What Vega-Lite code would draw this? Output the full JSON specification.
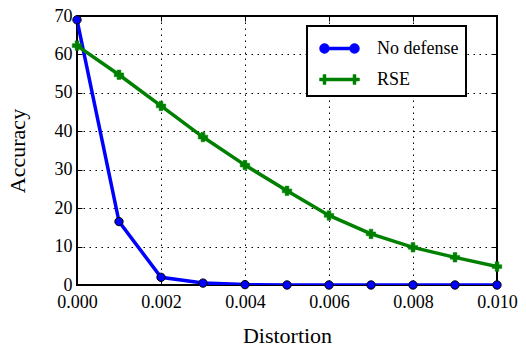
{
  "$schema": "https://vega.github.io/schema/vega-lite/v6.json",
  "width": 420,
  "height": 269,
  "autosize": "none",
  "padding": {"left": 77, "top": 16, "right": 29, "bottom": 63},
  "background": "white",
  "config": {
    "font": "Liberation Serif, DejaVu Serif, serif",
    "view": {"stroke": "black", "strokeWidth": 2},
    "axis": {
      "labelFont": "Liberation Serif, DejaVu Serif, serif",
      "titleFont": "Liberation Serif, DejaVu Serif, serif",
      "labelFontSize": 18,
      "titleFontSize": 22,
      "titleFontWeight": "normal",
      "labelColor": "black",
      "titleColor": "black",
      "domain": false,
      "tickColor": "black",
      "tickSize": -5,
      "tickWidth": 1,
      "gridColor": "black",
      "gridDash": [1.5, 4.5],
      "gridWidth": 1,
      "gridOpacity": 1
    }
  },
  "data": {
    "values": [
      {"d": 0.000, "acc": 69, "series": "No defense"},
      {"d": 0.001, "acc": 16.5, "series": "No defense"},
      {"d": 0.002, "acc": 2, "series": "No defense"},
      {"d": 0.003, "acc": 0.5, "series": "No defense"},
      {"d": 0.004, "acc": 0.1, "series": "No defense"},
      {"d": 0.005, "acc": 0, "series": "No defense"},
      {"d": 0.006, "acc": 0, "series": "No defense"},
      {"d": 0.007, "acc": 0, "series": "No defense"},
      {"d": 0.008, "acc": 0, "series": "No defense"},
      {"d": 0.009, "acc": 0, "series": "No defense"},
      {"d": 0.010, "acc": 0, "series": "No defense"},
      {"d": 0.000, "acc": 62.3, "series": "RSE"},
      {"d": 0.001, "acc": 54.7, "series": "RSE"},
      {"d": 0.002, "acc": 46.6, "series": "RSE"},
      {"d": 0.003, "acc": 38.5, "series": "RSE"},
      {"d": 0.004, "acc": 31.2, "series": "RSE"},
      {"d": 0.005, "acc": 24.5, "series": "RSE"},
      {"d": 0.006, "acc": 18.1, "series": "RSE"},
      {"d": 0.007, "acc": 13.3, "series": "RSE"},
      {"d": 0.008, "acc": 9.8, "series": "RSE"},
      {"d": 0.009, "acc": 7.2, "series": "RSE"},
      {"d": 0.010, "acc": 4.8, "series": "RSE"}
    ]
  },
  "layer": [
    {
      "mark": {"type": "line", "strokeWidth": 3.5, "clip": true},
      "encoding": {
        "x": {
          "field": "d", "type": "quantitative",
          "scale": {"domain": [0, 0.01], "nice": false},
          "axis": {"orient": "bottom", "title": "Distortion", "format": ".3f", "values": [0, 0.002, 0.004, 0.006, 0.008, 0.01], "labelPadding": 13, "titleBaseline": "alphabetic", "titleY": 57, "grid": true, "labelFlush": false}
        },
        "y": {
          "field": "acc", "type": "quantitative",
          "scale": {"domain": [0, 70], "nice": false},
          "axis": {"orient": "left", "title": "Accuracy", "values": [0, 10, 20, 30, 40, 50, 60, 70], "labelPadding": 10, "titleBaseline": "alphabetic", "titleX": -53, "grid": true}
        },
        "color": {
          "field": "series", "type": "nominal",
          "scale": {"domain": ["No defense", "RSE"], "range": ["#0000ff", "#008000"]},
          "legend": {
            "title": null,
            "orient": "none",
            "legendX": 230,
            "legendY": 10,
            "fillColor": "white",
            "strokeColor": "black",
            "padding": 7,
            "rowPadding": 6,
            "labelFont": "Liberation Serif, DejaVu Serif, serif",
            "labelFontSize": 18,
            "labelColor": "black",
            "labelOffset": 22,
            "symbolOffset": 10,
            "symbolSize": 900,
            "columns": 1,
            "encode": {
              "legend": {"update": {"strokeWidth": {"value": 2}}},
              "symbols": {
                "update": {
                  "shape": {"signal": "datum.value === 'RSE' ? 'M-1.33,-0.1H1.33V0.1H-1.33Z M-1.1,-0.33H-0.9V0.33H-1.1Z M0.9,-0.33H1.1V0.33H0.9Z' : 'M-0.67,-0.1H0.67V0.1H-0.67Z M-1.33,0A0.33,0.33 0 1,0 -0.67,0A0.33,0.33 0 1,0 -1.33,0Z M0.67,0A0.33,0.33 0 1,0 1.33,0A0.33,0.33 0 1,0 0.67,0Z'"},
                  "size": {"value": 900},
                  "fill": {"signal": "datum.value === 'RSE' ? '#008000' : '#0000ff'"},
                  "stroke": {"signal": "datum.value === 'RSE' ? '#008000' : '#0000ff'"},
                  "fillOpacity": {"value": 1},
                  "strokeWidth": {"value": 0.5},
                  "opacity": {"value": 1}
                }
              }
            }
          }
        }
      }
    },
    {
      "transform": [{"filter": "datum.series === 'No defense'"}],
      "mark": {"type": "point", "shape": "circle", "filled": true, "fill": "#0000ff", "stroke": "black", "strokeWidth": 1, "size": 70, "opacity": 1},
      "encoding": {
        "x": {
          "field": "d", "type": "quantitative",
          "scale": {"domain": [0, 0.01], "nice": false},
          "axis": {"orient": "top", "title": null, "labels": false, "grid": false, "values": [0, 0.002, 0.004, 0.006, 0.008, 0.01]}
        },
        "y": {
          "field": "acc", "type": "quantitative",
          "scale": {"domain": [0, 70], "nice": false},
          "axis": {"orient": "right", "title": null, "labels": false, "grid": false, "values": [0, 10, 20, 30, 40, 50, 60, 70]}
        }
      }
    },
    {
      "transform": [{"filter": "datum.series === 'RSE'"}],
      "mark": {"type": "point", "shape": "cross", "filled": true, "fill": "#008000", "stroke": "#008000", "strokeWidth": 0.5, "size": 90, "opacity": 1},
      "encoding": {
        "x": {
          "field": "d", "type": "quantitative",
          "scale": {"domain": [0, 0.01], "nice": false},
          "axis": null
        },
        "y": {
          "field": "acc", "type": "quantitative",
          "scale": {"domain": [0, 70], "nice": false},
          "axis": null
        }
      }
    }
  ],
  "resolve": {"axis": {"x": "independent", "y": "independent"}}
}
